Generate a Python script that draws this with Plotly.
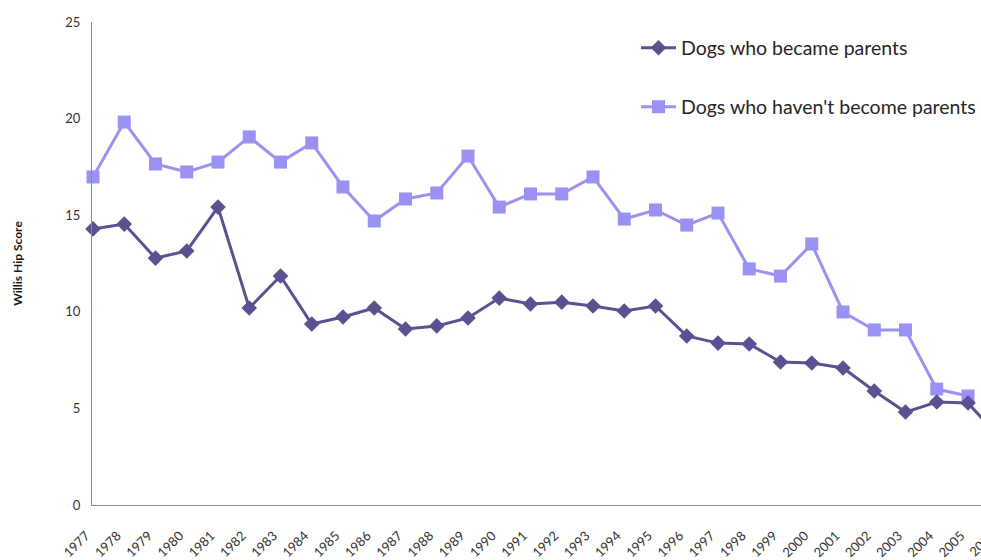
import plotly.graph_objects as go

years = list(range(1977, 2007))
parents = [14.29, 14.54, 12.78, 13.15, 15.42, 10.2, 11.85, 9.37, 9.73, 10.2,
           9.11, 9.27, 9.68, 10.71, 10.4, 10.5, 10.3, 10.04, 10.3, 8.75,
           8.38, 8.33, 7.4, 7.35, 7.09, 5.9, 4.81, 5.33, 5.28, 3.5]
non_parents = [16.98, 19.82, 17.65, 17.24, 17.75, 19.05, 17.75, 18.74, 16.46, 14.7,
               15.84, 16.15, 18.06, 15.42, 16.1, 16.1, 16.98, 14.8, 15.27, 14.49,
               15.11, 12.22, 11.85, 13.51, 9.99, 9.06, 9.06, 6.0, 5.64, None]
y_ticks = [0, 5, 10, 15, 20, 25]
x_labels = [str(y) for y in years]

DARK = "#5B5191"
LIGHT = "#9A92F2"
FONT = "Lato"

fig = go.Figure()
fig.add_trace(go.Scatter(
    x=years, y=non_parents, mode="lines+markers", name="Dogs who haven't become parents",
    line=dict(color=LIGHT, width=3), marker=dict(symbol="square", size=13, color=LIGHT),
    cliponaxis=False, legend="legend2", showlegend=True))
fig.add_trace(go.Scatter(
    x=years, y=parents, mode="lines+markers", name="Dogs who became parents",
    line=dict(color=DARK, width=3), marker=dict(symbol="diamond", size=12, color=DARK),
    cliponaxis=False, legend="legend", showlegend=True))

px_per_year = 31.25
left_px, right_px = 92, 981
plot_w, plot_h, bottom_px = right_px - left_px, 483, 505
x0 = 1977 - 1 / px_per_year
x1 = x0 + plot_w / px_per_year

legend_style = dict(xanchor="left", yanchor="middle", itemwidth=35,
                    font=dict(size=19.5, color="#262626"), bgcolor="rgba(0,0,0,0)",
                    visible=True)

pad = "\u00a0" * 3

# last category label sits beyond the visible plot edge and is cut off by the page
last_center_px = left_px + (years[-1] - x0) * px_per_year - 17

fig.add_annotation(
    text=x_labels[-1], xref="paper", yref="paper",
    x=(last_center_px - left_px) / plot_w, y=(bottom_px - 543) / plot_h,
    xanchor="center", yanchor="middle", textangle=-45, showarrow=False,
    font=dict(family=FONT, size=13, color="#333333"))

fig.update_layout(
    width=981, height=560,
    showlegend=True,
    margin=dict(l=92, r=0, t=22, b=55),
    paper_bgcolor="white", plot_bgcolor="white",
    font=dict(family=FONT, color="#333333"),
    legend=dict(x=(636 - 92) / 889, y=(505 - 48) / 483, **legend_style),
    legend2=dict(x=(636 - 92) / 889, y=(505 - 107) / 483, **legend_style),
    xaxis=dict(range=[x0, x1], tickvals=years, ticktext=[t + pad for t in x_labels],
               tickangle=-45, showgrid=False, zeroline=False, showline=True,
               linecolor="#8c8c8c", linewidth=1, ticks="", tickfont=dict(size=13, color="#333333"),
               ticklabelstandoff=10),
    yaxis=dict(range=[0, 25], tickvals=y_ticks, showgrid=False, zeroline=False,
               showline=True, linecolor="#8c8c8c", linewidth=1, ticks="",
               tickfont=dict(size=13, color="#333333"), ticklabelstandoff=8,
               title=dict(text="<b>Willis Hip Score</b>", font=dict(size=12, color="#1a1a1a"),
                          standoff=40)),
)

fig.write_html("out.html")
